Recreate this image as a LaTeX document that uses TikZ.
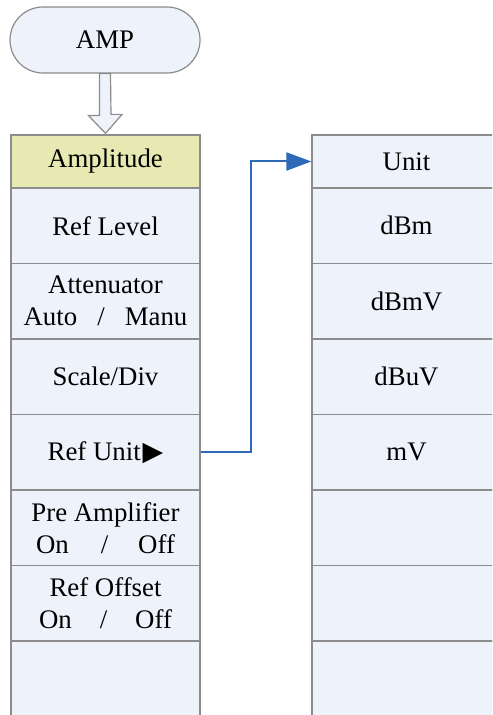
\documentclass[tikz,border=0pt]{standalone}
\usepackage{fontspec}
\setmainfont{Liberation Serif}
\newfontfamily\menufont{Liberation Serif}
\newfontfamily\symfont{DejaVu Sans}
\usetikzlibrary{shapes.misc,arrows.meta,calc}

\definecolor{boxfill}{RGB}{238,242,250}
\definecolor{hifill}{RGB}{230,234,178}
\definecolor{edgegray}{RGB}{140,140,140}
\definecolor{linkblue}{RGB}{46,106,184}

\tikzset{
  menu/.style={rectangle, draw=edgegray, fill=boxfill, line width=0.6pt,
    minimum width=94.5pt, minimum height=37.75pt, inner sep=0pt, align=center,
    font=\menufont\fontsize{13.4}{16}\selectfont},
  menutitle/.style={menu, fill=hifill, minimum height=26.5pt},
  keybox/.style={menu, rounded rectangle, minimum width=95pt, minimum height=33pt},
  hollow/.style={draw=edgegray, fill=boxfill, line width=0.6pt, line join=miter},
  link/.style={draw=linkblue, line width=1pt, -{Triangle[length=12.5pt,width=9pt]}}
}

\begin{document}
\begin{tikzpicture}[x=0.5pt, y=-0.5pt]
  \useasboundingbox (0,0) rectangle (492,715);
  \clip (0,0) rectangle (492,715);

  \node[keybox] (amp) at (105,40) {AMP};

  % left menu
  \node[menutitle] (m1) at (105.5,161.5) {Amplitude};
  \node[menu] (m2) at (105.5,225.75) {Ref Level};
  \node[menu] (m3) at (105.5,301.25) {Attenuator\\Auto~~~/~~~Manu};
  \node[menu] (m4) at (105.5,376.75) {Scale/Div};
  \node[menu] (m5) at (105.5,452.25) {Ref Unit\kern1pt{\symfont ▶}};
  \node[menu] (m6) at (105.5,527.75) {Pre Amplifier\\On\hspace{16pt}/\hspace{15pt}Off};
  \node[menu] (m7) at (105.5,603.25) {Ref Offset\\On\hspace{14pt}/\hspace{14pt}Off};
  \node[menu] (m8) at (105.5,678.75) {};

  % unit menu
  \node[menu] (u1) at (406.5,161.5) [minimum height=26.5pt] {Unit};
  \node[menu] (u2) at (406.5,225.75) {dBm};
  \node[menu] (u3) at (406.5,301.25) {dBmV};
  \node[menu] (u4) at (406.5,376.75) {dBuV};
  \node[menu] (u5) at (406.5,452.25) {mV};
  \node[menu] (u6) at (406.5,527.75) {};
  \node[menu] (u7) at (406.5,603.25) {};
  \node[menu] (u8) at (406.5,678.75) {};

  \draw[hollow] ($(amp.south)+(-5.5,0)$) -- ++(0,42) -- ++(-11,0) -- ($(m1.north)+(0,-1)$)
    -- ++(16.5,-19) -- ++(-11,0) -- ($(amp.south)+(5.5,0)$) -- cycle;

  \draw[link] (m5.east) -- ++(50,0) |- (u1.west);
\end{tikzpicture}
\end{document}
